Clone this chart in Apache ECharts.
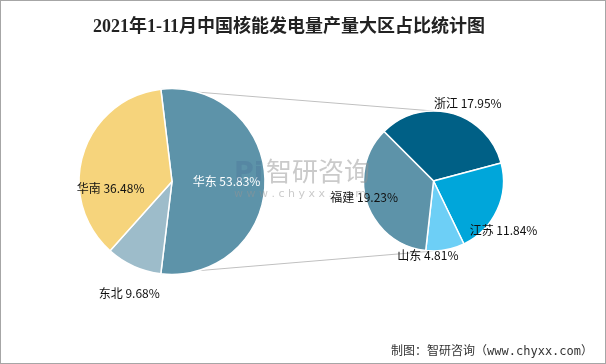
<!DOCTYPE html>
<html>
<head>
<meta charset="utf-8">
<script src="https://cdn.jsdelivr.net/npm/echarts@6/dist/echarts.min.js"></script>
<style>
html,body{margin:0;padding:0;background:#fff;}
#c{width:606px;height:364px;box-sizing:border-box;border:1px solid #a6a6a6;}
</style>
</head>
<body>
<div id="c"></div>
<script>
// ---- data ----
const title = '2021年1-11月中国核能发电量产量大区占比统计图';
const regions = ['华东', '东北', '华南'];
const regionShares = [53.83, 9.68, 36.48];
const provinces = ['浙江', '江苏', '山东', '福建'];
const provinceShares = [17.95, 11.84, 4.81, 19.23];
const source = '制图：智研咨询（www.chyxx.com）';

// ---- style ----
const regionColors = ['#5d93a9', '#9dbcca', '#f6d47c'];
const provinceColors = ['#006086', '#00a6da', '#6dcff6', '#5d93a9'];
const L = {cx: 171, cy: 180.5, r: 93};
const R = {cx: 432.5, cy: 180, r: 70};
const rightStart = 135;
// label offsets (fractions of radius, from center)
const regionLabelOff = [[0.586, 0], [-0.46, 1.2], [-0.66, 0.07]];
const provinceLabelOff = [[0.49, -1.11], [1.0, 0.7], [-0.08, 1.06], [-0.99, 0.24]];

const leftStart = regionShares[0] / 100 * 180; // slice centred on 3 o'clock
const rad = a => a * Math.PI / 180;
const pt = (p, a) => [p.cx + p.r * Math.cos(rad(a)), p.cy - p.r * Math.sin(rad(a))];
const lt = pt(L, leftStart), lb = pt(L, -leftStart);
const rt = pt(R, 90), rb = pt(R, -90);

const chart = echarts.init(document.getElementById('c'));
const font = "'Noto Sans CJK SC', 'DejaVu Sans', sans-serif";

function mkLayout(p, offs) {
  return function (params) {
    const o = offs[params.dataIndex];
    return {x: p.cx + o[0] * p.r, y: p.cy + o[1] * p.r, align: 'center', verticalAlign: 'middle'};
  };
}

chart.setOption({
  animation: false,
  title: {
    text: title, left: 283, top: 12, textAlign: 'center',
    textStyle: {fontFamily: "'Liberation Serif', 'Noto Sans CJK SC', serif", fontSize: 18, fontWeight: 'bold', color: '#222'}
  },
  graphic: [
    {type: 'line', shape: {x1: lt[0], y1: lt[1], x2: rt[0], y2: rt[1]}, style: {stroke: '#c0c0c0', lineWidth: 1}, z: 0},
    {type: 'line', shape: {x1: lb[0], y1: lb[1], x2: rb[0], y2: rb[1]}, style: {stroke: '#c0c0c0', lineWidth: 1}, z: 0},
    {type: 'text', left: 233, top: 159, z: 100, style: {text: 'Pi', font: "bold 27px 'DejaVu Sans'", fill: 'rgba(70,110,150,0.3)'}},
    {type: 'text', left: 265, top: 157, z: 100, style: {text: '智研咨询', font: "26px 'Noto Sans CJK SC'", fill: 'rgba(150,150,150,0.5)', letterSpacing: 5}},
    {type: 'text', left: 233, top: 188, z: 100, style: {text: 'w w w . c h y x x . c o m', font: "11px 'DejaVu Sans'", fill: 'rgba(150,150,150,0.5)', letterSpacing: 1}},
    {type: 'text', right: 12, top: 345, style: {text: source, font: "12px 'DejaVu Sans Mono', 'Noto Sans CJK SC'", fill: '#333'}}
  ],
  series: [
    {
      type: 'pie', center: [L.cx, L.cy], radius: L.r, startAngle: leftStart, clockwise: true,
      avoidLabelOverlap: false,
      itemStyle: {borderColor: '#fff', borderWidth: 1.5},
      label: {show: true, position: 'inside', fontFamily: font, fontSize: 12, color: '#111',
        formatter: p => p.name + ' ' + p.value.toFixed(2) + '%'},
      labelLine: {show: false},
      labelLayout: mkLayout(L, regionLabelOff),
      emphasis: {disabled: true},
      data: regions.map((n, i) => ({name: n, value: regionShares[i], itemStyle: {color: regionColors[i]},
        label: i === 0 ? {color: '#fff'} : {}}))
    },
    {
      type: 'pie', center: [R.cx, R.cy], radius: R.r, startAngle: rightStart, clockwise: true,
      avoidLabelOverlap: false,
      itemStyle: {borderColor: '#fff', borderWidth: 1.5},
      label: {show: true, position: 'inside', fontFamily: font, fontSize: 12, color: '#111',
        formatter: p => p.name + ' ' + p.value.toFixed(2) + '%'},
      labelLine: {show: false},
      labelLayout: mkLayout(R, provinceLabelOff),
      emphasis: {disabled: true},
      data: provinces.map((n, i) => ({name: n, value: provinceShares[i], itemStyle: {color: provinceColors[i]}}))
    }
  ]
});
</script>
</body>
</html>
